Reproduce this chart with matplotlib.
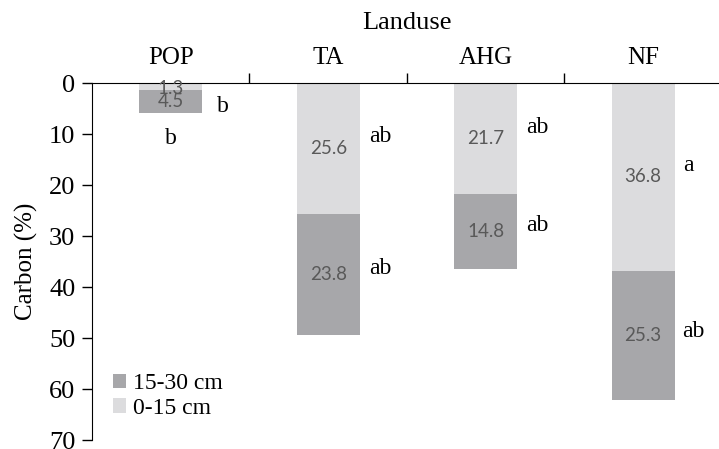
import matplotlib.pyplot as plt

# Carbon (%) by land use, two soil depths
landuse = ["POP", "TA", "AHG", "NF"]
top_layer = [1.3, 25.6, 21.7, 36.8]      # 0-15 cm
sub_layer = [4.5, 23.8, 14.8, 25.3]      # 15-30 cm
top_letters = ["b", "ab", "ab", "a"]
sub_letters = ["b", "ab", "ab", "ab"]

light = "#dcdcde"
dark = "#a7a7aa"
serif = "Liberation Serif"

fig = plt.figure(figsize=(7.19, 4.49), dpi=100)
ax = fig.add_axes([0.128, 0.02, 0.876, 0.795])

x = list(range(len(landuse)))
w = 0.4
ax.bar(x, top_layer, width=w, color=light, label="0-15 cm")
ax.bar(x, sub_layer, width=w, bottom=top_layer, color=dark, label="15-30 cm")

# values inside the bars
for i in x:
    ax.text(i, top_layer[i] / 2 + (0.4 if top_layer[i] < 3 else 0), f"{top_layer[i]}",
            ha="center", va="center", color="#595959", fontsize=13.5, family="Lato")
    ax.text(i, top_layer[i] + sub_layer[i] / 2, f"{sub_layer[i]}",
            ha="center", va="center", color="#595959", fontsize=13.5, family="Lato")

# significance letters (positions)
top_pos = [(0.0, 10.8), (1.33, 10.4), (2.33, 8.8), (3.29, 16.2)]
sub_pos = [(0.33, 4.6), (1.33, 36.3), (2.33, 28.0), (3.32, 48.7)]
for (px, py), s in zip(top_pos, top_letters):
    ax.text(px, py, s, ha="center", va="center", fontsize=17, family=serif)
for (px, py), s in zip(sub_pos, sub_letters):
    ax.text(px, py, s, ha="center", va="center", fontsize=17, family=serif)

ax.set_xlim(-0.5, 3.5)
ax.set_ylim(70, 0)
ax.set_yticks(range(0, 71, 10))

ax.xaxis.tick_top()
ax.xaxis.set_label_position("top")
ax.set_xticks(x)
ax.set_xticklabels(landuse, family=serif, fontsize=18)
ax.set_xticks([0.5, 1.5, 2.5], minor=True)
ax.tick_params(axis="x", which="major", length=0, pad=10)
ax.tick_params(axis="x", which="minor", length=7, width=1, direction="out")
ax.tick_params(axis="y", length=7, width=1, direction="out", labelsize=19, pad=5)
for lab in ax.get_yticklabels():
    lab.set_family(serif)

ax.set_xlabel("Landuse", family=serif, fontsize=19, labelpad=13)
ax.set_ylabel("Carbon (%)", family=serif, fontsize=18, labelpad=8)

ax.spines["right"].set_visible(False)
ax.spines["bottom"].set_visible(False)

handles, labels = ax.get_legend_handles_labels()
ax.legend(handles[::-1], labels[::-1], loc="lower left", bbox_to_anchor=(0.0, 0.0),
          frameon=False, prop={"family": serif, "size": 17},
          handlelength=0.55, handleheight=0.55, handletextpad=0.3, labelspacing=0.15)

fig.savefig("out.png", dpi=100)
